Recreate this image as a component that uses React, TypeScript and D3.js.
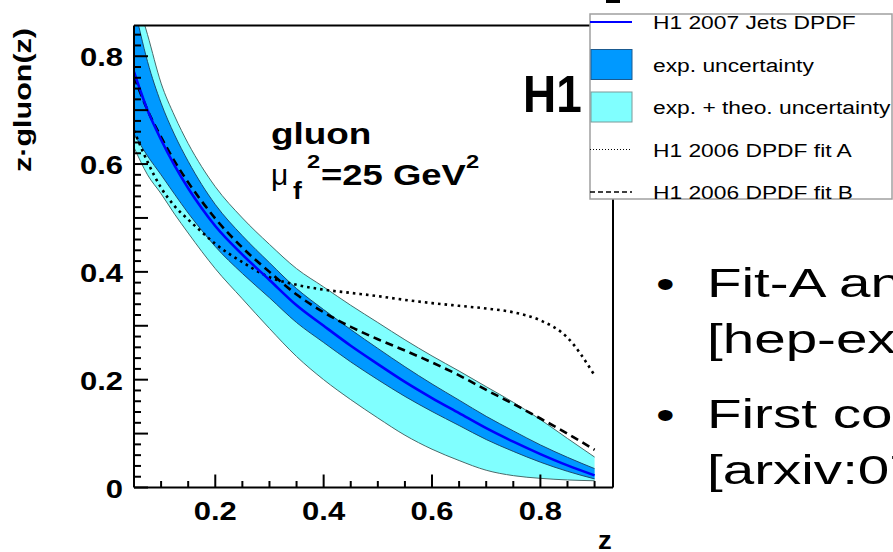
import React from "react";
import * as d3 from "d3";

// ---------------- data ----------------
const zGrid = [0.05, 0.075, 0.1, 0.125, 0.15, 0.175, 0.2, 0.25, 0.3, 0.35, 0.4, 0.45, 0.5, 0.55, 0.6, 0.65, 0.7, 0.75, 0.8, 0.85, 0.9];
const central = [0.771, 0.70, 0.645, 0.597, 0.555, 0.518, 0.485, 0.432, 0.385, 0.338, 0.30, 0.263, 0.229, 0.196, 0.166, 0.138, 0.110, 0.085, 0.062, 0.041, 0.0225];
const expUpper = [0.895, 0.79, 0.713, 0.654, 0.605, 0.562, 0.525, 0.467, 0.417, 0.369, 0.33, 0.293, 0.258, 0.224, 0.192, 0.162, 0.132, 0.105, 0.079, 0.056, 0.035];
const expLower = [0.656, 0.615, 0.58, 0.544, 0.509, 0.477, 0.447, 0.397, 0.352, 0.306, 0.269, 0.233, 0.20, 0.169, 0.141, 0.115, 0.089, 0.067, 0.047, 0.03, 0.016];
const totUpper = [0.925, 0.84, 0.75, 0.689, 0.638, 0.595, 0.558, 0.50, 0.451, 0.406, 0.372, 0.338, 0.306, 0.274, 0.244, 0.216, 0.187, 0.158, 0.126, 0.091, 0.0565];
const totLower = [0.631, 0.58, 0.545, 0.507, 0.472, 0.438, 0.406, 0.35, 0.295, 0.243, 0.20, 0.163, 0.129, 0.097, 0.071, 0.05, 0.032, 0.022, 0.017, 0.014, 0.0125];
const fitA = [0.662, 0.604, 0.556, 0.522, 0.497, 0.474, 0.452, 0.418, 0.39, 0.376, 0.367, 0.361, 0.355, 0.348, 0.342, 0.337, 0.332, 0.325, 0.31, 0.278, 0.208];
const fitB = [0.762, 0.70, 0.65, 0.605, 0.566, 0.531, 0.499, 0.445, 0.40, 0.358, 0.325, 0.298, 0.275, 0.254, 0.232, 0.208, 0.181, 0.155, 0.128, 0.10, 0.07];

const xMajorTicks = [0.2, 0.4, 0.6, 0.8];
const xTickLabels = ["0.2", "0.4", "0.6", "0.8"];
const xMinorTicks = [0.1, 0.15, 0.25, 0.3, 0.35, 0.45, 0.5, 0.55, 0.65, 0.7, 0.75, 0.85, 0.9];
const yMajorTicks = [0, 0.2, 0.4, 0.6, 0.8];
const yTickLabels = ["0", "0.2", "0.4", "0.6", "0.8"];
const yMidTicks = [0.1, 0.3, 0.5, 0.7];
const yMinorTicks = [0.02, 0.04, 0.06, 0.08, 0.12, 0.14, 0.16, 0.18, 0.22, 0.24, 0.26, 0.28, 0.32, 0.34, 0.36, 0.38, 0.42, 0.44, 0.46, 0.48, 0.52, 0.54, 0.56, 0.58, 0.62, 0.64, 0.66, 0.68, 0.72, 0.74, 0.76, 0.78, 0.82, 0.84];

const legendLabels = ["H1 2007 Jets DPDF", "exp. uncertainty", "exp. + theo. uncertainty", "H1 2006 DPDF fit A", "H1 2006 DPDF fit B"];
const bulletLines = [
  ["Fit-A and Fit-B from H1 2006 DPDF", "[hep-ex/0606004]"],
  ["First combined fit", "[arxiv:0708.3217]"],
];

// ---------------- layout ----------------
const W = 893, H = 552;
const FONT = "'Liberation Sans', Arial, Helvetica, sans-serif";
const DARK = "#0099ff";
const CYAN = "#80ffff";

const T = ({ x, y, size, weight = "normal", anchor = "start", rotate = 0, sx = 1.22, children }: any) => (
  <text
    transform={`translate(${x},${y}) rotate(${rotate}) scale(${sx},1)`}
    fontSize={size}
    fontWeight={weight}
    textAnchor={anchor}
    fontFamily={FONT}
    fill="#000"
  >
    {children}
  </text>
);

export default function App() {
  const x = d3.scaleLinear().domain([0.05, 0.934]).range([134, 613]);
  const y = d3.scaleLinear().domain([0, 0.857]).range([487.5, 25.5]);
  const idx = zGrid.map((_, i) => i);

  const area = (lo: number[], hi: number[]) =>
    d3.area<number>().x((i) => x(zGrid[i])).y0((i) => y(lo[i])).y1((i) => y(hi[i])).curve(d3.curveMonotoneX)(idx) || "";
  const line = (v: number[]) =>
    d3.line<number>().x((i) => x(zGrid[i])).y((i) => y(v[i])).curve(d3.curveMonotoneX)(idx) || "";

  const [x0, x1] = x.range();
  const [yb, yt] = y.range();

  const legX = 590, legY = 14, legW = 302, legH = 185;
  const rowBase = (i: number) => 29 + i * 42.5;

  return (
    <svg width={W} height={H} style={{ position: "absolute", left: 0, top: 0, background: "#fff" }}>
      <defs>
        <clipPath id="plot">
          <rect x={x0} y={yt} width={x1 - x0} height={yb - yt} />
        </clipPath>
      </defs>
      <rect x={0} y={0} width={W} height={H} fill="#fff" />
      <g clipPath="url(#plot)">
        <path d={area(totLower, totUpper)} fill={CYAN} />
        <path d={line(totUpper)} fill="none" stroke="#4a6a6a" strokeWidth={1} />
        <path d={line(totLower)} fill="none" stroke="#4a6a6a" strokeWidth={1} />
        <path d={area(expLower, expUpper)} fill={DARK} />
        <path d={line(expUpper)} fill="none" stroke="#1a4a70" strokeWidth={1} />
        <path d={line(expLower)} fill="none" stroke="#1a4a70" strokeWidth={1} />
        <path d={line(fitA)} fill="none" stroke="#000" strokeWidth={2.6} strokeDasharray="2.6,4" />
        <path d={line(fitB)} fill="none" stroke="#000" strokeWidth={2.6} strokeDasharray="8,5" />
        <path d={line(central)} fill="none" stroke="#0000ff" strokeWidth={2.6} />
      </g>

      {/* frame */}
      <line x1={x0} x2={x0} y1={yt} y2={yb} stroke="#000" strokeWidth={2} />
      <line x1={x0} x2={x1} y1={yb} y2={yb} stroke="#000" strokeWidth={2} />
      <line x1={x0} x2={x1} y1={yt} y2={yt} stroke="#000" strokeWidth={2} />
      <line x1={x1} x2={x1} y1={yt} y2={yb} stroke="#000" strokeWidth={2} />

      {/* x ticks */}
      {xMajorTicks.map((v) => (
        <line key={"xM" + v} x1={x(v)} x2={x(v)} y1={yb} y2={yb - 13} stroke="#000" strokeWidth={2} />
      ))}
      {xMinorTicks.map((v) => (
        <line key={"xm" + v} x1={x(v)} x2={x(v)} y1={yb} y2={yb - 6.5} stroke="#000" strokeWidth={2} />
      ))}
      {xMajorTicks.map((v, i) => (
        <T key={"xl" + v} x={x(v)} y={520} size={25} weight="bold" anchor="middle" sx={1.24}>
          {xTickLabels[i]}
        </T>
      ))}
      {/* y ticks */}
      {[...yMajorTicks, ...yMidTicks].map((v) => (
        <line key={"yM" + v} x1={x0} x2={x0 + 14} y1={y(v)} y2={y(v)} stroke="#000" strokeWidth={2} />
      ))}
      {yMinorTicks.map((v) => (
        <line key={"ym" + v} x1={x0} x2={x0 + 7} y1={y(v)} y2={y(v)} stroke="#000" strokeWidth={2} />
      ))}
      {yMajorTicks.map((v, i) => (
        <T key={"yl" + v} x={123} y={y(v) + 10} size={25} weight="bold" anchor="end" sx={1.24}>
          {yTickLabels[i]}
        </T>
      ))}

      {/* axis titles */}
      <T x={31} y={100} size={24} weight="bold" anchor="middle" rotate={-90} sx={1.27}>
        z·gluon(z)
      </T>
      <T x={598} y={549} size={25} weight="bold" sx={1.1}>
        z
      </T>

      {/* annotations */}
      <T x={271} y={144} size={30} weight="bold" sx={1.23}>gluon</T>
      <T x={271} y={185} size={30} sx={1.0}>μ</T>
      <T x={293} y={199} size={23} weight="bold" sx={1.15}>f</T>
      <T x={307} y={168} size={19} weight="bold" sx={1.25}>2</T>
      <T x={321} y={185} size={30} weight="bold" sx={1.215}>=25 GeV</T>
      <T x={466} y={168} size={19} weight="bold" sx={1.25}>2</T>
      <T x={523} y={112} size={51} weight="bold" sx={0.9}>H1</T>

      {/* title fragment at top */}
      <rect x={606} y={0} width={14} height={3} fill="#000" />

      {/* legend */}
      <rect x={legX} y={legY} width={legW} height={legH} fill="#fff" stroke="#a0a0a0" strokeWidth={1.5} />
      <line x1={legX} x2={632} y1={rowBase(0) - 7} y2={rowBase(0) - 7} stroke="#0000ff" strokeWidth={2} />
      <rect x={legX + 1} y={rowBase(1) - 22} width={41} height={30} fill={DARK} stroke="#1a5a90" strokeWidth={1} />
      <rect x={legX + 1} y={rowBase(2) - 22} width={41} height={30} fill={CYAN} stroke="#7a9a9a" strokeWidth={1} />
      <line x1={legX} x2={632} y1={rowBase(3) - 7} y2={rowBase(3) - 7} stroke="#000" strokeWidth={1} strokeDasharray="1,2" />
      <line x1={legX} x2={632} y1={rowBase(4) - 7} y2={rowBase(4) - 7} stroke="#000" strokeWidth={1.5} strokeDasharray="5,3" />
      {legendLabels.map((s, i) => (
        <T key={s} x={653} y={rowBase(i)} size={19} sx={1.2}>
          {s}
        </T>
      ))}

      {/* bullet text on slide */}
      {bulletLines.map((b, i) => (
        <g key={i}>
          <T x={656} y={298 + i * 131} size={41} sx={1.3}>•</T>
          <T x={707} y={297 + i * 131} size={41} sx={1.38}>{b[0]}</T>
          <T x={707} y={353 + i * 131} size={41} sx={1.38}>{b[1]}</T>
        </g>
      ))}
    </svg>
  );
}
